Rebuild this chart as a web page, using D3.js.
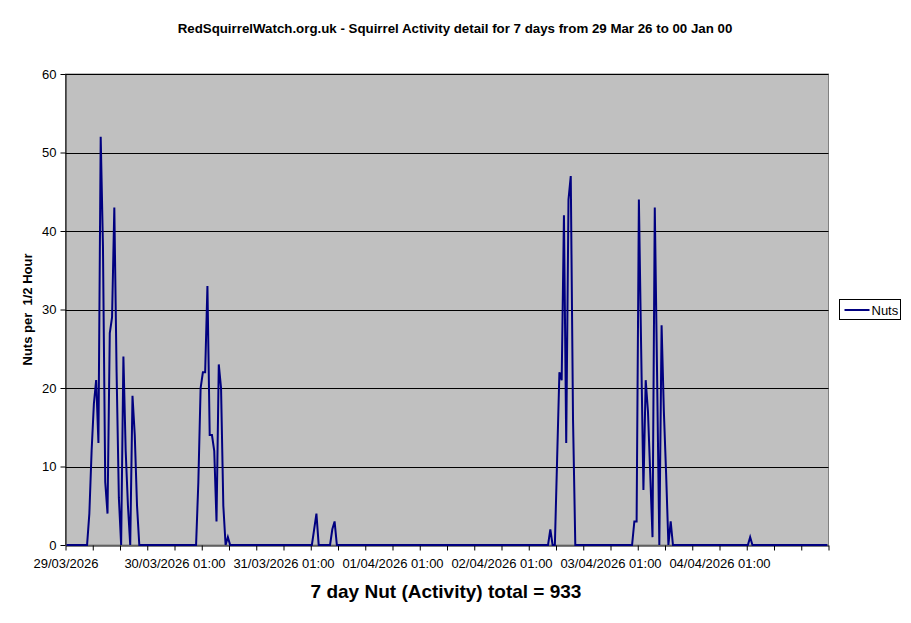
<!DOCTYPE html>
<html>
<head>
<meta charset="utf-8">
<script src="https://cdn.jsdelivr.net/npm/d3@7/dist/d3.min.js"></script>
<style>
  body { margin: 0; background: #fff; }
  svg text { font-family: Arial, "Liberation Sans", sans-serif; fill: #000; }
  .chart-title { font-size: 13.3px; font-weight: bold; }
  .axis-title { font-size: 13px; font-weight: bold; }
  .total-label { font-size: 19px; font-weight: bold; }
  .tick-label { font-size: 13px; }
</style>
</head>
<body>
<div data-chart-line="nuts"></div>
<script>
// half-hour slots, 12 per row (6 hours), 7 days
const nutsPerHalfHour = [
  0, 0, 0, 0, 0, 0, 0, 0, 0, 0, 4, 12,
  18, 21, 13, 52, 38, 8, 4, 27, 29, 43, 22, 6,
  0, 24, 12, 5, 0, 19, 14, 5, 0, 0, 0, 0,
  0, 0, 0, 0, 0, 0, 0, 0, 0, 0, 0, 0,
  0, 0, 0, 0, 0, 0, 0, 0, 0, 0, 8, 20,
  22, 22, 33, 14, 14, 12, 3, 23, 20, 5, 0, 1,
  0, 0, 0, 0, 0, 0, 0, 0, 0, 0, 0, 0,
  0, 0, 0, 0, 0, 0, 0, 0, 0, 0, 0, 0,
  0, 0, 0, 0, 0, 0, 0, 0, 0, 0, 0, 0,
  0, 2, 4, 0, 0, 0, 0, 0, 0, 2, 3, 0,
  0, 0, 0, 0, 0, 0, 0, 0, 0, 0, 0, 0,
  0, 0, 0, 0, 0, 0, 0, 0, 0, 0, 0, 0,
  0, 0, 0, 0, 0, 0, 0, 0, 0, 0, 0, 0,
  0, 0, 0, 0, 0, 0, 0, 0, 0, 0, 0, 0,
  0, 0, 0, 0, 0, 0, 0, 0, 0, 0, 0, 0,
  0, 0, 0, 0, 0, 0, 0, 0, 0, 0, 0, 0,
  0, 0, 0, 0, 0, 0, 0, 0, 0, 0, 0, 0,
  0, 0, 0, 0, 0, 0, 0, 0, 0, 2, 0, 0,
  11, 22, 21, 42, 13, 44, 47, 16, 0, 0, 0, 0,
  0, 0, 0, 0, 0, 0, 0, 0, 0, 0, 0, 0,
  0, 0, 0, 0, 0, 0, 0, 0, 0, 0, 3, 3,
  44, 25, 7, 21, 17, 9, 1, 43, 22, 0, 28, 17,
  9, 0, 3, 0, 0, 0, 0, 0, 0, 0, 0, 0,
  0, 0, 0, 0, 0, 0, 0, 0, 0, 0, 0, 0,
  0, 0, 0, 0, 0, 0, 0, 0, 0, 0, 0, 0,
  0, 1, 0, 0, 0, 0, 0, 0, 0, 0, 0, 0,
  0, 0, 0, 0, 0, 0, 0, 0, 0, 0, 0, 0,
  0, 0, 0, 0, 0, 0, 0, 0, 0, 0, 0, 0
];

const dayLabels = [
  "29/03/2026",
  "30/03/2026 01:00",
  "31/03/2026 01:00",
  "01/04/2026 01:00",
  "02/04/2026 01:00",
  "03/04/2026 01:00",
  "04/04/2026 01:00"
];

const yTicks = [0, 10, 20, 30, 40, 50, 60];
const seriesName = "Nuts";
const chartTitle = "RedSquirrelWatch.org.uk - Squirrel Activity detail for 7 days from 29 Mar 26 to 00 Jan 00";
const yTitle = "Nuts per  1/2 Hour";
const totalText = "7 day Nut (Activity) total = 933";

const slotsPerTick = 12;
const slotsPerLabel = 48;

class ChartNuts {
  constructor(options) {
    this.options = {
      id: 'nuts',
      width: 911,
      height: 623,
      plot: { left: 65.5, right: 828.5, top: 74, bottom: 545 },
      ...options
    };
    this.svg = null;
    this.init();
  }

  init() {
    const o = this.options;
    const p = o.plot;

    this.svg = d3.select(`[data-chart-line="${o.id}"]`)
      .append("svg")
      .attr("width", o.width)
      .attr("height", o.height);

    this.x = d3.scaleLinear()
      .domain([0, nutsPerHalfHour.length])
      .range([p.left, p.right]);

    this.y = d3.scaleLinear()
      .domain([0, 60])
      .range([p.bottom, p.top]);

    this.renderPlotArea();
    this.renderAxes();
    this.renderLine();
    this.renderTexts();
    this.renderLegend();
  }

  renderPlotArea() {
    const p = this.options.plot;
    this.svg.append("rect")
      .attr("x", p.left)
      .attr("y", p.top)
      .attr("width", p.right - p.left)
      .attr("height", p.bottom - p.top)
      .attr("fill", "#c0c0c0")
      .attr("stroke", "#808080")
      .attr("stroke-width", 1);

    this.svg.append("g")
      .selectAll("line")
      .data(yTicks.filter(d => d > 0))
      .join("line")
      .attr("x1", p.left)
      .attr("x2", p.right)
      .attr("y1", d => Math.round(this.y(d)) + 0.5)
      .attr("y2", d => Math.round(this.y(d)) + 0.5)
      .attr("stroke", "#000")
      .attr("stroke-width", 1);
  }

  renderAxes() {
    const p = this.options.plot;

    const xTickValues = d3.range(0, nutsPerHalfHour.length + 1, slotsPerTick);
    const xAxis = d3.axisBottom(this.x)
      .tickValues(xTickValues)
      .tickSize(5)
      .tickSizeOuter(0)
      .tickFormat(d => (d % slotsPerLabel === 0 && dayLabels[d / slotsPerLabel]) || "");

    const gx = this.svg.append("g")
      .attr("transform", `translate(0,${p.bottom + 0.5})`)
      .call(xAxis);
    gx.select(".domain").attr("stroke", "#000");
    gx.selectAll(".tick line").attr("stroke", "#000");
    gx.selectAll(".tick text")
      .attr("class", "tick-label")
      .attr("dy", "0.71em")
      .attr("y", 13)
      .attr("font-family", null)
      .attr("font-size", null);

    const yAxis = d3.axisLeft(this.y)
      .tickValues(yTicks)
      .tickSize(5)
      .tickSizeOuter(0)
      .tickPadding(4);

    const gy = this.svg.append("g")
      .attr("transform", `translate(${p.left},0)`)
      .call(yAxis);
    gy.select(".domain").attr("stroke", "#000");
    gy.selectAll(".tick line").attr("stroke", "#000");
    gy.selectAll(".tick text")
      .attr("class", "tick-label")
      .attr("font-family", null)
      .attr("font-size", null);
  }

  renderLine() {
    const line = d3.line()
      .x((d, i) => this.x(i + 0.5))
      .y(d => this.y(d));

    this.svg.append("path")
      .datum(nutsPerHalfHour)
      .attr("d", line)
      .attr("fill", "none")
      .attr("stroke", "#000080")
      .attr("stroke-width", 2)
      .attr("stroke-linejoin", "miter");
  }

  renderTexts() {
    const p = this.options.plot;

    this.svg.append("text")
      .attr("class", "chart-title")
      .attr("x", 455)
      .attr("y", 33)
      .attr("text-anchor", "middle")
      .text(chartTitle);

    this.svg.append("text")
      .attr("class", "axis-title")
      .attr("transform", `translate(32,${(p.top + p.bottom) / 2}) rotate(-90)`)
      .attr("text-anchor", "middle")
      .text(yTitle)
      .style("white-space", "pre");

    this.svg.append("text")
      .attr("class", "total-label")
      .attr("x", 446)
      .attr("y", 598)
      .attr("text-anchor", "middle")
      .text(totalText);
  }

  renderLegend() {
    const g = this.svg.append("g").attr("transform", "translate(839.5,299.5)");
    g.append("rect")
      .attr("width", 61)
      .attr("height", 20)
      .attr("fill", "#fff")
      .attr("stroke", "#000");
    g.append("line")
      .attr("x1", 5).attr("x2", 30)
      .attr("y1", 10.5).attr("y2", 10.5)
      .attr("stroke", "#000080")
      .attr("stroke-width", 2);
    g.append("text")
      .attr("x", 32)
      .attr("y", 15)
      .attr("font-size", "13px")
      .text(seriesName);
  }
}

new ChartNuts({ id: 'nuts' });
</script>
</body>
</html>
